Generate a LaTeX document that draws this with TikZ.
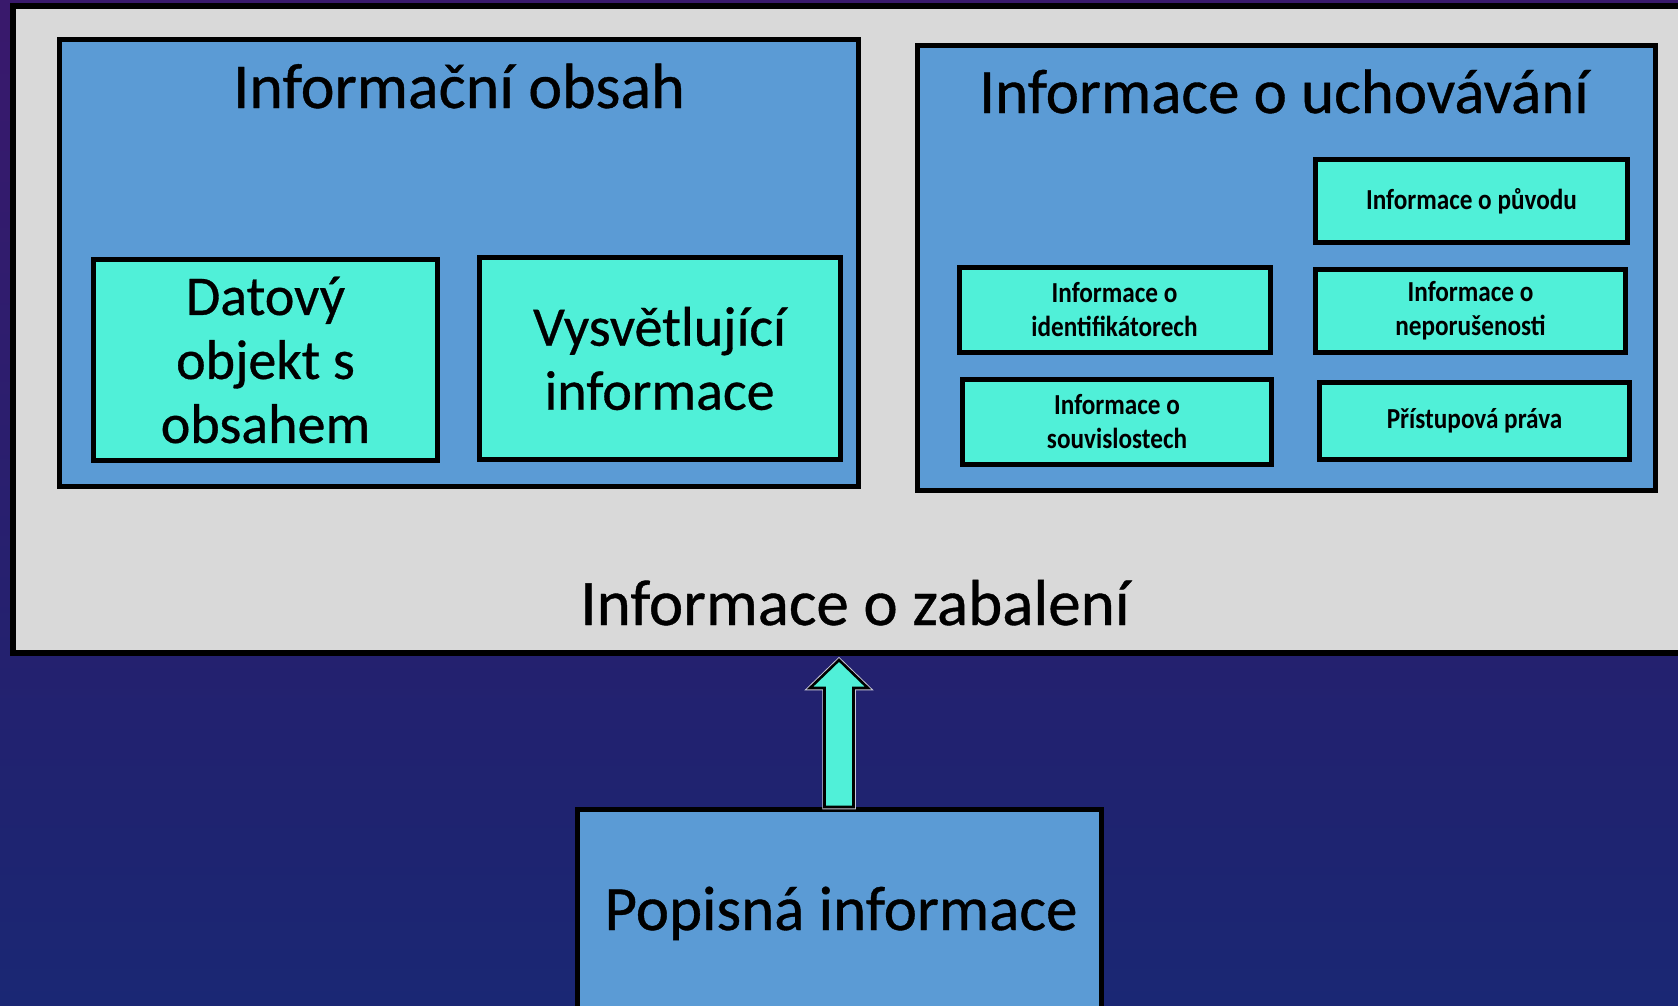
\documentclass[tikz,border=0pt]{standalone}
\usepackage{fontspec}
\setmainfont{Carlito}[FakeBold=0.6]
\newfontfamily\condf{Carlito}[FakeStretch=0.87]
\usetikzlibrary{calc}
\definecolor{bggray}{HTML}{D9D9D9}
\definecolor{boxblue}{HTML}{5B9BD5}
\definecolor{boxcyan}{HTML}{50F0D8}
\definecolor{bgtop}{HTML}{4A126A}
\definecolor{bgmid}{HTML}{1F2370}
\definecolor{bgbot}{HTML}{0E327E}
\definecolor{halo}{HTML}{C8C8D8}
\pgfdeclareverticalshading{spacebg}{100bp}{color(0bp)=(bgbot); color(35bp)=(bgmid); color(100bp)=(bgtop)}
\begin{document}
\begin{tikzpicture}[x=1pt,y=-1pt,
  frame/.style={draw=black, rectangle, inner sep=0pt},
  bluebox/.style={frame, fill=boxblue, line width=5pt},
  cyanbox/.style={frame, fill=boxcyan, line width=5pt, align=center},
  bigtxt/.style={font=\fontsize{56}{64}\selectfont},
  smalltxt/.style={font=\condf\bfseries\fontsize{29}{34}\selectfont},
  title/.style={anchor=base, inner sep=0pt},
]
\useasboundingbox (0,0) rectangle (1678,1005);
\shade[shading=spacebg] (0,0) rectangle (1678,1005);

% outer packaging box
\node[frame, fill=bggray, line width=6pt, minimum width=1687pt, minimum height=647pt] (zabal) at (856.5,329.5) {};

% content information
\node[bluebox, minimum width=799pt, minimum height=447pt] (obsah) at (458.5,262.5) {};
\node[title, font=\fontsize{64}{76}\selectfont] (obsahT) at (459,108) {Informační obsah};
\node[cyanbox, bigtxt, minimum width=344pt, minimum height=201pt] (datovy) at (265.5,360) {Datový\\objekt s\\obsahem};
\node[cyanbox, bigtxt, minimum width=361pt, minimum height=202pt] (vysvet) at (659.5,358.5) {Vysvětlující\\informace};

% preservation information
\node[bluebox, minimum width=738pt, minimum height=445pt] (uchov) at (1286,267.5) {};
\node[title, font=\fontsize{63}{76}\selectfont] (uchovT) at (1284,113) {Informace o uchovávání};
\node[cyanbox, smalltxt, minimum width=312pt, minimum height=83pt] (puvod) at (1471.5,201) {Informace o původu};
\node[cyanbox, smalltxt, minimum width=311pt, minimum height=85pt] (ident) at (1114.5,310) {Informace o\\identifikátorech};
\node[cyanbox, smalltxt, minimum width=310pt, minimum height=83pt] (neporus) at (1470.5,311) {Informace o\\neporušenosti};
\node[cyanbox, smalltxt, minimum width=309pt, minimum height=85pt] (souvis) at (1117,422) {Informace o\\souvislostech};
\node[cyanbox, smalltxt, minimum width=310pt, minimum height=77pt] (pristup) at (1474.5,421) {Přístupová práva};

\node[title, font=\fontsize{65}{76}\selectfont] (zabalT) at (855,625) {Informace o zabalení};

% descriptive information
\node[bluebox, minimum width=524pt, minimum height=221pt] (popis) at (839,920) {};
\node[title, font=\fontsize{63}{76}\selectfont] (popisT) at (841,930) {Popisná informace};

% arrow from descriptive information to the package
\coordinate (tip) at ($(popis.north |- zabal.south)+(0,4)$);
\coordinate (sb) at (popis.north);
\foreach \lw/\col in {4.5pt/halo, 2.6pt/black}{
  \draw[line width=\lw, draw=\col, fill=boxcyan, line join=miter]
    (tip) -- ($(tip)+(29,28)$) -- ($(tip)+(14.5,28)$) -- ($(sb)+(14.5,0)$)
    -- ($(sb)+(-14.5,0)$) -- ($(tip)+(-14.5,28)$) -- ($(tip)+(-29,28)$) -- cycle;
}
\end{tikzpicture}
\end{document}
